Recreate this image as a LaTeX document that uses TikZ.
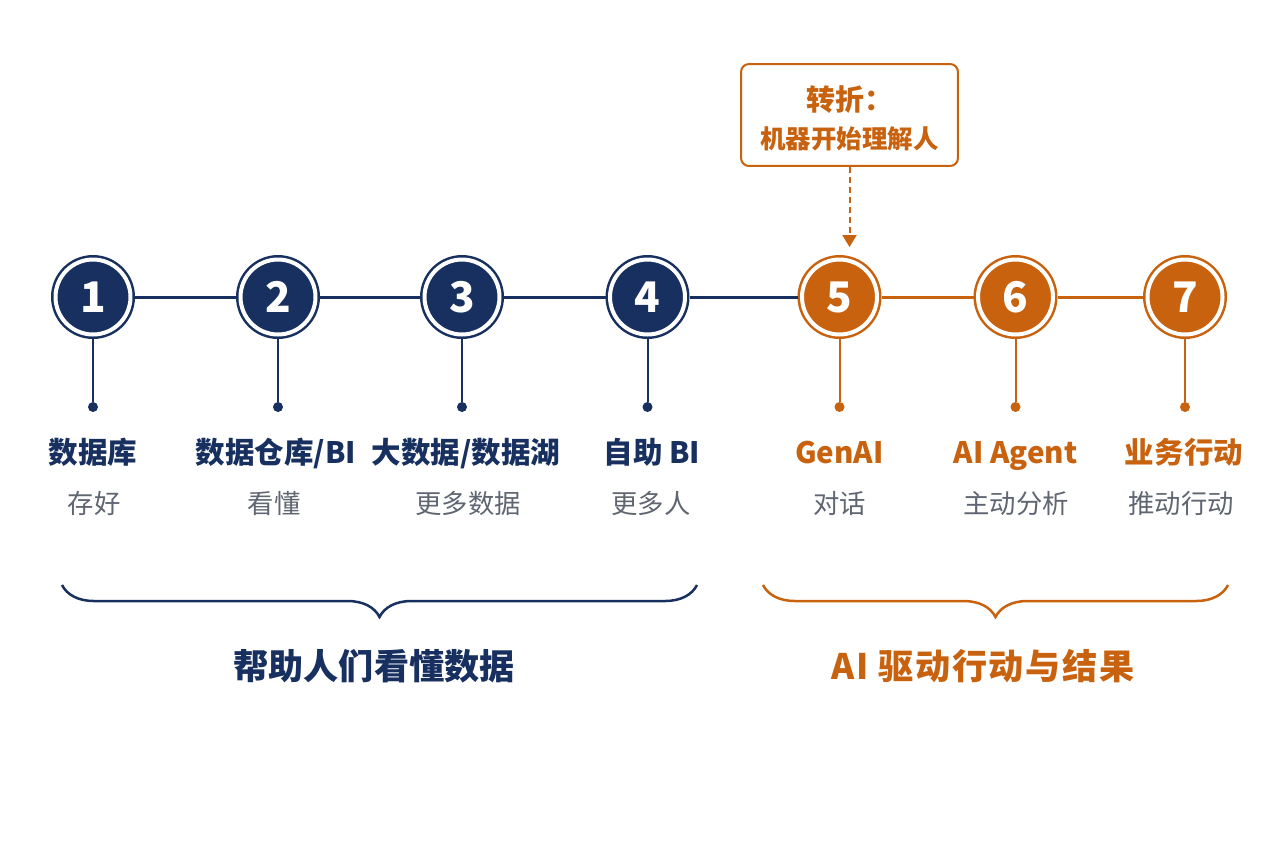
\documentclass[tikz,border=0pt]{standalone}
\usepackage{fontspec}
\setmainfont{Noto Sans CJK SC}
\usepackage{xcolor}
\definecolor{deep-navy}{HTML}{17305F}
\definecolor{burnt-orange}{HTML}{C8620E}
\definecolor{soft-gray}{HTML}{5F6672}
\usepackage{tikz}
\usetikzlibrary{positioning}
\usetikzlibrary{arrows.meta}
\usetikzlibrary{decorations.pathreplacing}
\tikzset{stage/.style = {circle, fill=#1, draw=#1, double=white, double distance=0.08cm, line width=0.05cm, minimum size=1.5cm, inner sep=0, outer sep=0.09cm, text=white, font=\fontsize{24}{24}\selectfont\bfseries, text height=17.5pt, text depth=0pt}}
\tikzset{pin/.style = {circle, fill=#1, inner sep=0, minimum size=0.2cm}}
\tikzset{heading/.style = {text=#1, inner sep=0, font=\fontsize{16.8}{18}\selectfont\bfseries, text height=13.9pt, text depth=1.2pt}}
\tikzset{caption/.style = {text=soft-gray, inner sep=0, font=\fontsize{15}{18}\selectfont, text height=12.5pt, text depth=1pt}}
\tikzset{era/.style = {text=#1, inner sep=0, font=\fontsize{20}{22}\selectfont\bfseries, text height=16.6pt, text depth=1.4pt}}
\tikzset{callout/.style = {draw=burnt-orange, line width=0.04cm, rounded corners=0.16cm, fill=white, minimum width=4.34cm, minimum height=2.04cm, align=center, text=burnt-orange, font=\fontsize{14.5}{22}\selectfont\bfseries}}
\tikzset{link/.style = {line width=0.06cm, draw=#1}}
\tikzset{stem/.style = {line width=0.04cm, draw=#1}}
\tikzset{curly/.style = {line width=0.05cm, draw=#1, decorate, decoration={brace, mirror, amplitude=0.64cm}}}
\tikzset{hint/.style = {draw=burnt-orange, line width=0.04cm, dash pattern=on 0.12cm off 0.08cm, -{Triangle[length=0.24cm, width=0.28cm]}, shorten >=0.16cm}}

\begin{document}
\begin{tikzpicture}[x=0.02cm, y=-0.02cm]

\fill[white] (0,0) rectangle (1280,853);
\useasboundingbox (0,0) rectangle (1280,853);

% the turning point note
\node[callout] (turn) at (849.5,115) {\rule{0pt}{18pt}{\fontsize{16.5}{22}\selectfont 转折：}\\机器开始理解人};

% seven stages
\node[stage=deep-navy] (c1) at (93,297) {1};
\node[stage=deep-navy] (c2) at (278,297) {2};
\node[stage=deep-navy] (c3) at (462,297) {3};
\node[stage=deep-navy] (c4) at (647.5,297) {4};
\node[stage=burnt-orange] (c5) at (839.5,297) {5};
\node[stage=burnt-orange] (c6) at (1015.5,297) {6};
\node[stage=burnt-orange] (c7) at (1185,297) {7};

\node[pin=deep-navy] (d1) at (93,407) {};
\node[pin=deep-navy] (d2) at (278,407) {};
\node[pin=deep-navy] (d3) at (462,407) {};
\node[pin=deep-navy] (d4) at (647.5,407) {};
\node[pin=burnt-orange] (d5) at (839.5,407) {};
\node[pin=burnt-orange] (d6) at (1015.5,407) {};
\node[pin=burnt-orange] (d7) at (1185,407) {};

\node[heading=deep-navy] (t1) at (93,452) {数据库};
\node[heading=deep-navy] (t2) at (276,452) {数据仓库/BI};
\node[heading=deep-navy] (t3) at (466,452) {大数据/数据湖};
\node[heading=deep-navy] (t4) at (652,452) {自助 BI};
\node[heading=burnt-orange] (t5) at (839.5,452) {GenAI};
\node[heading=burnt-orange] (t6) at (1015.5,452) {AI Agent};
\node[heading=burnt-orange] (t7) at (1184,452) {业务行动};

\node[caption] (s1) at (94,503) {存好};
\node[caption] (s2) at (274,503) {看懂};
\node[caption] (s3) at (468,503) {更多数据};
\node[caption] (s4) at (651,503) {更多人};
\node[caption] (s5) at (839.5,503) {对话};
\node[caption] (s6) at (1016,503) {主动分析};
\node[caption] (s7) at (1181,503) {推动行动};

% two eras
\draw[curly=deep-navy] (62,585) -- (697,585);
\draw[curly=burnt-orange] (763,585) -- (1228,585);
\node[era=deep-navy] (g1) at (374,666) {帮助人们看懂数据};
\node[era=burnt-orange] (g2) at (983,666) {\addfontfeature{LetterSpace=5}AI 驱动行动与结果};

\draw[link=deep-navy] (c1) -- (c2);
\draw[link=deep-navy] (c2) -- (c3);
\draw[link=deep-navy] (c3) -- (c4);
\draw[link=deep-navy] (c4) -- (c5);
\draw[link=burnt-orange] (c5) -- (c6);
\draw[link=burnt-orange] (c6) -- (c7);

\draw[stem=deep-navy] (c1) -- (d1);
\draw[stem=deep-navy] (c2) -- (d2);
\draw[stem=deep-navy] (c3) -- (d3);
\draw[stem=deep-navy] (c4) -- (d4);
\draw[stem=burnt-orange] (c5) -- (d5);
\draw[stem=burnt-orange] (c6) -- (d6);
\draw[stem=burnt-orange] (c7) -- (d7);

\draw[hint] (turn.south) -- (turn.south |- c5.north);

\end{tikzpicture}
\end{document}
